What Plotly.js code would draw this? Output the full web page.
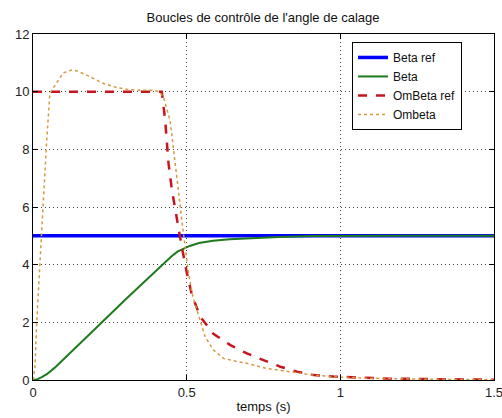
<!DOCTYPE html>
<html>
<head>
<meta charset="utf-8">
<script src="https://cdn.plot.ly/plotly-3.0.1.min.js"></script>
<style>html,body{margin:0;padding:0;background:#fff;}#chart{width:502px;height:418px;}</style>
</head>
<body>
<div id="chart"></div>
<script>
const betaRefT = [0, 0.5, 1.0, 1.5];
const betaRefY = [5, 5, 5, 5];

const betaT = [0, 0.015, 0.027, 0.045, 0.07, 0.09, 0.114, 0.2, 0.3, 0.424, 0.45, 0.47, 0.49, 0.51, 0.54, 0.586, 0.64, 0.696, 0.8, 0.912, 1.0, 1.2, 1.5];
const betaY = [0, 0.03, 0.09, 0.2, 0.42, 0.63, 0.87, 1.75, 2.78, 4.05, 4.28, 4.45, 4.56, 4.65, 4.75, 4.83, 4.88, 4.91, 4.96, 4.99, 5.0, 5.0, 5.0];

const omRefT = [0, 0.419, 0.43, 0.441, 0.452, 0.468, 0.484, 0.5, 0.517, 0.544, 0.587, 0.642, 0.696, 0.75, 0.805, 0.859, 0.913, 0.978, 1.05, 1.15, 1.3, 1.5];
const omRefY = [10, 10, 9.02, 7.51, 6.59, 5.55, 4.62, 3.75, 2.95, 2.2, 1.6, 1.21, 0.92, 0.69, 0.46, 0.29, 0.17, 0.12, 0.08, 0.05, 0.03, 0.01];

const omT = [0, 0.0065, 0.012, 0.022, 0.033, 0.044, 0.055, 0.077, 0.098, 0.126, 0.143, 0.18, 0.228, 0.27, 0.305, 0.35, 0.39, 0.41, 0.424, 0.446, 0.457, 0.473, 0.484, 0.495, 0.506, 0.52, 0.544, 0.56, 0.587, 0.62, 0.66, 0.696, 0.761, 0.837, 0.913, 1.0, 1.1, 1.25, 1.5];
const omY = [0, 0.45, 2.0, 4.0, 6.0, 8.2, 9.95, 10.29, 10.65, 10.75, 10.72, 10.55, 10.29, 10.15, 10.08, 10.05, 10.05, 10.0, 9.83, 9.0, 8.09, 6.59, 5.55, 4.62, 3.7, 2.9, 2.08, 1.5, 1.04, 0.75, 0.65, 0.58, 0.4, 0.29, 0.17, 0.1, 0.06, 0.03, 0.01];

const names = ['Beta ref', 'Beta', 'OmBeta ref', 'Ombeta'];
const xTicks = [0, 0.5, 1, 1.5];
const xTickText = ['0', '0.5', '1', '1.5'];
const yTicks = [0, 2, 4, 6, 8, 10, 12];

const FONT = 'Liberation Sans, Arial, sans-serif';

const traces = [
  {x: betaRefT, y: betaRefY, name: names[0], mode: 'lines', line: {color: '#0000ff', width: 3.5}},
  {x: betaT, y: betaY, name: names[1], mode: 'lines', line: {color: '#1e7a1e', width: 2}},
  {x: omRefT, y: omRefY, name: names[2], mode: 'lines', line: {color: '#c8141e', width: 2.5, dash: 'dash'}},
  {x: omT, y: omY, name: names[3], mode: 'lines', line: {color: '#d39a40', width: 1.5, dash: 'dot'}}
];

const axisCommon = {
  showline: true, linecolor: '#000', linewidth: 1, mirror: 'ticks',
  ticks: 'inside', ticklen: 5, tickcolor: '#000',
  showgrid: true, gridcolor: '#444', griddash: '1px,3px', gridwidth: 1,
  zeroline: false, ticklabeloverflow: 'allow',
  tickfont: {family: FONT, size: 13, color: '#222'}
};

const layout = {
  width: 502, height: 418,
  margin: {l: 33, r: 8, t: 34, b: 38},
  paper_bgcolor: '#fff', plot_bgcolor: '#fff',
  title: {text: "Boucles de contrôle de l'angle de calage", x: 0.524, xanchor: 'center', y: 0.958, yanchor: 'middle',
    font: {family: FONT, size: 13, color: '#111'}},
  xaxis: Object.assign({}, axisCommon, {range: [0, 1.5], tickvals: xTicks, ticktext: xTickText,
    title: {text: 'temps (s)', standoff: 3, font: {family: FONT, size: 13, color: '#111'}}}),
  yaxis: Object.assign({}, axisCommon, {range: [0, 12], tickvals: yTicks}),
  showlegend: true,
  legend: {x: 0.692, y: 0.977, xanchor: 'left', yanchor: 'top', bgcolor: '#fff', bordercolor: '#000', borderwidth: 1,
    font: {family: FONT, size: 12, color: '#111'}, tracegroupgap: 0, itemwidth: 30}
};

Plotly.newPlot('chart', traces, layout, {displayModeBar: false, staticPlot: true});
</script>
</body>
</html>
